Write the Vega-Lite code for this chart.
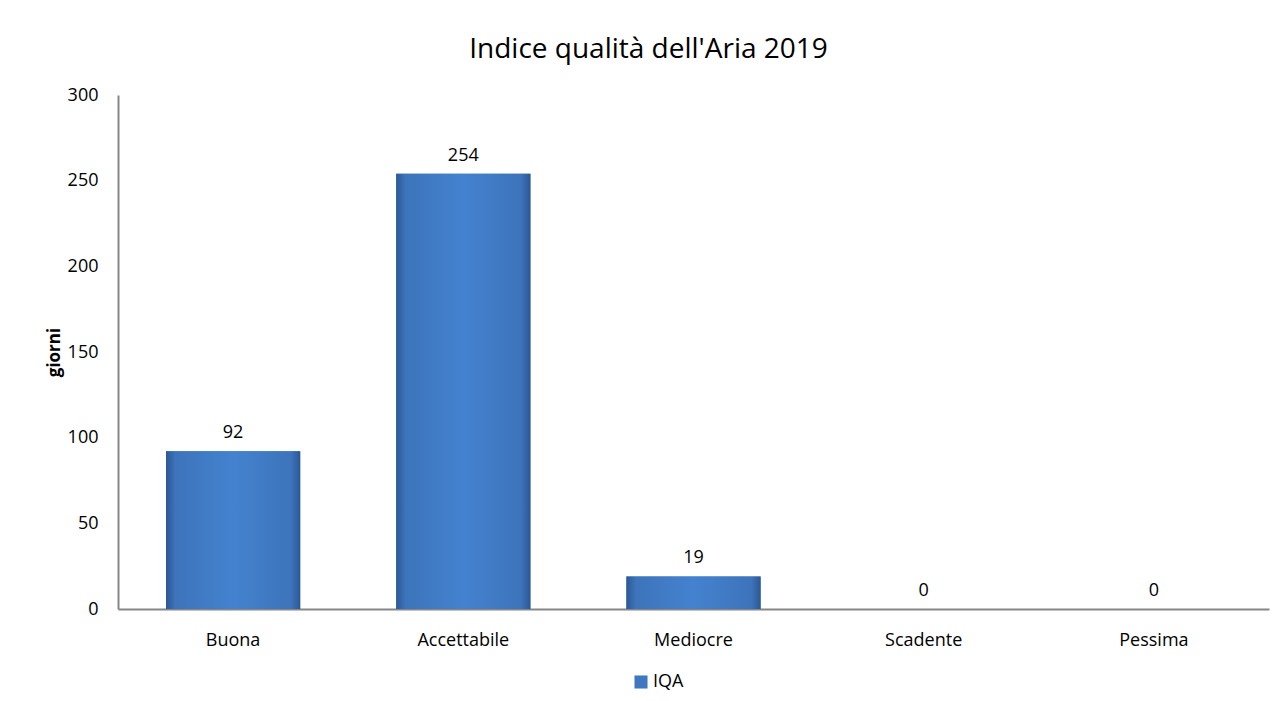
{
  "$schema": "https://vega.github.io/schema/vega-lite/v6.json",
  "autosize": "none",
  "width": 1151,
  "height": 514,
  "padding": {"left": 118, "top": 95, "right": 10, "bottom": 92},
  "background": "white",
  "config": {
    "view": {"stroke": null},
    "font": "Open Sans"
  },
  "title": {
    "text": "Indice qualità dell'Aria 2019",
    "fontSize": 28,
    "fontWeight": "normal",
    "font": "Open Sans",
    "color": "#000000",
    "anchor": "middle",
    "dx": -45,
    "offset": 22
  },
  "data": {
    "values": [
      {"categoria": "Buona", "giorni": 92, "serie": "IQA"},
      {"categoria": "Accettabile", "giorni": 254, "serie": "IQA"},
      {"categoria": "Mediocre", "giorni": 19, "serie": "IQA"},
      {"categoria": "Scadente", "giorni": 0, "serie": "IQA"},
      {"categoria": "Pessima", "giorni": 0, "serie": "IQA"}
    ]
  },
  "encoding": {
    "x": {
      "field": "categoria",
      "type": "nominal",
      "sort": null,
      "scale": {"paddingInner": 0.417, "paddingOuter": 0.2085},
      "axis": {
        "title": null,
        "labelAngle": 0,
        "labelFont": "Open Sans",
        "labelFontSize": 18,
        "labelColor": "#000000",
        "labelPadding": 22,
        "ticks": false,
        "domainColor": "#868686",
        "domainWidth": 2
      }
    },
    "y": {
      "field": "giorni",
      "type": "quantitative",
      "scale": {"domain": [0, 300], "nice": false},
      "axis": {
        "title": "giorni",
        "titleFont": "Open Sans",
        "titleFontSize": 17,
        "titleFontWeight": "bold",
        "titleColor": "#000000",
        "titlePadding": 4,
        "values": [0, 50, 100, 150, 200, 250, 300],
        "labelFont": "Open Sans",
        "labelFontSize": 18,
        "labelColor": "#000000",
        "labelPadding": 20,
        "ticks": false,
        "grid": false,
        "domainColor": "#868686",
        "domainWidth": 2
      }
    }
  },
  "layer": [
    {
      "mark": {"type": "bar"},
      "encoding": {
        "color": {
          "field": "serie",
          "type": "nominal",
          "scale": {"range": ["#3f78c0"]},
          "legend": {
            "title": null,
            "orient": "none",
            "legendX": 514,
            "legendY": 578,
            "symbolType": "square",
            "symbolSize": 170,
            "symbolStrokeWidth": 0,
            "labelFont": "Open Sans",
            "labelFontSize": 18,
            "labelColor": "#000000",
            "labelOffset": 3
          }
        }
      }
    },
    {
      "mark": {
        "type": "bar",
        "fill": {
          "gradient": "linear",
          "x1": 0, "y1": 0, "x2": 1, "y2": 0,
          "stops": [
            {"offset": 0, "color": "#2b5894"},
            {"offset": 0.07, "color": "#3d74bb"},
            {"offset": 0.5, "color": "#4482cf"},
            {"offset": 0.93, "color": "#3d74bb"},
            {"offset": 1, "color": "#2b5894"}
          ]
        }
      }
    },
    {
      "mark": {"type": "text", "dy": -18, "fontSize": 18, "font": "Open Sans", "color": "#000000"},
      "encoding": {"text": {"field": "giorni", "type": "quantitative"}}
    }
  ]
}
